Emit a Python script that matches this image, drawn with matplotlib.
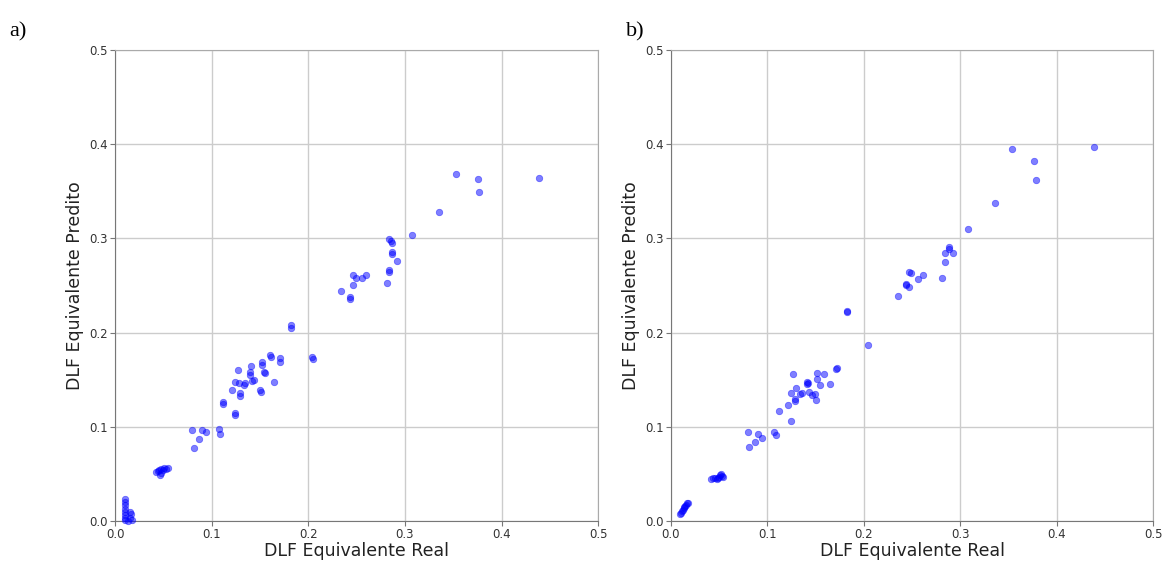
import matplotlib
matplotlib.use("Agg")
import matplotlib.pyplot as plt

# Panel a) model predictions
real_a = [0.353, 0.376, 0.377, 0.335, 0.307, 0.439,
          0.283, 0.286, 0.287, 0.287, 0.287, 0.292, 0.283, 0.283, 0.281,
          0.234, 0.243, 0.243, 0.246, 0.246, 0.249, 0.256, 0.260,
          0.182, 0.182, 0.204, 0.205,
          0.160, 0.161, 0.171, 0.171, 0.152, 0.152, 0.141, 0.140, 0.140,
          0.154, 0.155, 0.144, 0.142, 0.127, 0.124, 0.128, 0.133, 0.134,
          0.129, 0.129, 0.121, 0.150, 0.151, 0.164, 0.112, 0.112, 0.124, 0.124,
          0.080, 0.090, 0.094, 0.087, 0.082, 0.108, 0.109,
          0.042, 0.044, 0.046, 0.048, 0.048, 0.050, 0.051, 0.053, 0.055, 0.047,
          0.010, 0.010, 0.010, 0.010, 0.010, 0.010, 0.010, 0.010,
          0.016, 0.017, 0.016, 0.018, 0.013]
pred_a = [0.368, 0.363, 0.349, 0.328, 0.304, 0.364,
          0.299, 0.297, 0.295, 0.286, 0.283, 0.276, 0.266, 0.264, 0.253,
          0.244, 0.238, 0.236, 0.251, 0.261, 0.258, 0.258, 0.261,
          0.208, 0.205, 0.174, 0.172,
          0.176, 0.174, 0.173, 0.169, 0.169, 0.166, 0.165, 0.158, 0.155,
          0.158, 0.157, 0.150, 0.149, 0.160, 0.148, 0.146, 0.144, 0.146,
          0.136, 0.133, 0.139, 0.139, 0.137, 0.148, 0.126, 0.124, 0.115, 0.113,
          0.097, 0.097, 0.094, 0.087, 0.078, 0.098, 0.092,
          0.052, 0.053, 0.054, 0.051, 0.055, 0.054, 0.056, 0.055, 0.056, 0.049,
          0.023, 0.020, 0.017, 0.013, 0.010, 0.006, 0.003, 0.001,
          0.010, 0.007, 0.003, 0.001, 0.000]

# Panel b) model predictions
real_b = [0.354, 0.377, 0.379, 0.336, 0.308, 0.439,
          0.288, 0.288, 0.284, 0.293, 0.284, 0.281, 0.261, 0.256,
          0.247, 0.249, 0.244, 0.244, 0.247, 0.235,
          0.183, 0.183, 0.204,
          0.171, 0.172, 0.159, 0.151, 0.151, 0.155, 0.165, 0.150, 0.149,
          0.141, 0.141, 0.142, 0.143, 0.146, 0.134, 0.127, 0.130, 0.124,
          0.129, 0.129, 0.121, 0.112, 0.124, 0.136,
          0.080, 0.090, 0.094, 0.087, 0.081, 0.107, 0.109,
          0.041, 0.044, 0.046, 0.048, 0.049, 0.051, 0.052, 0.053, 0.054, 0.050,
          0.009, 0.010, 0.011, 0.012, 0.013, 0.014, 0.015, 0.016, 0.017, 0.018]
pred_b = [0.395, 0.382, 0.362, 0.338, 0.310, 0.397,
          0.291, 0.289, 0.284, 0.284, 0.275, 0.258, 0.261, 0.257,
          0.264, 0.263, 0.252, 0.251, 0.248, 0.239,
          0.222, 0.223, 0.187,
          0.161, 0.162, 0.156, 0.157, 0.151, 0.144, 0.145, 0.128, 0.135,
          0.148, 0.145, 0.147, 0.137, 0.134, 0.135, 0.156, 0.141, 0.136,
          0.127, 0.129, 0.123, 0.117, 0.106, 0.136,
          0.094, 0.092, 0.088, 0.084, 0.079, 0.094, 0.091,
          0.045, 0.046, 0.046, 0.045, 0.046, 0.049, 0.050, 0.048, 0.047, 0.047,
          0.007, 0.009, 0.011, 0.012, 0.014, 0.015, 0.016, 0.017, 0.019, 0.019]

ticks = [0.0, 0.1, 0.2, 0.3, 0.4, 0.5]
tick_labels = ["0.0", "0.1", "0.2", "0.3", "0.4", "0.5"]
x_label = "DLF Equivalente Real"
y_label = "DLF Equivalente Predito"
panel_tags = ["a)", "b)"]

fig = plt.figure(figsize=(11.7, 5.65), dpi=100)
ax_a = fig.add_axes([0.0983, 0.0779, 0.413, 0.8336])
ax_b = fig.add_axes([0.5735, 0.0779, 0.412, 0.8336])

for ax, xs, ys in ((ax_a, real_a, pred_a), (ax_b, real_b, pred_b)):
    ax.scatter(xs, ys, s=22, color="blue", alpha=0.5, linewidths=0.5,
               zorder=3, clip_on=False)
    ax.set_xlim(0, 0.5)
    ax.set_ylim(0, 0.5)
    ax.set_xticks(ticks)
    ax.set_xticklabels(tick_labels)
    ax.set_yticks(ticks)
    ax.set_yticklabels(tick_labels)
    ax.tick_params(labelsize=8.5, pad=1.5, length=3.5, color="#777777",
                   labelcolor="#333333")
    ax.grid(True, color="#cccccc", linewidth=1.0)
    ax.set_axisbelow(True)
    for side in ("top", "right"):
        ax.spines[side].set_color("#aaaaaa")
    for side in ("left", "bottom"):
        ax.spines[side].set_color("#777777")
    ax.set_xlabel(x_label, fontsize=12.5, labelpad=1, color="#222222")
    ax.set_ylabel(y_label, fontsize=12.5, labelpad=4, color="#222222")

fig.text(0.008, 0.935, panel_tags[0], fontsize=16, family="Liberation Serif")
fig.text(0.535, 0.935, panel_tags[1], fontsize=16, family="Liberation Serif")

fig.savefig("out.png", dpi=100)
